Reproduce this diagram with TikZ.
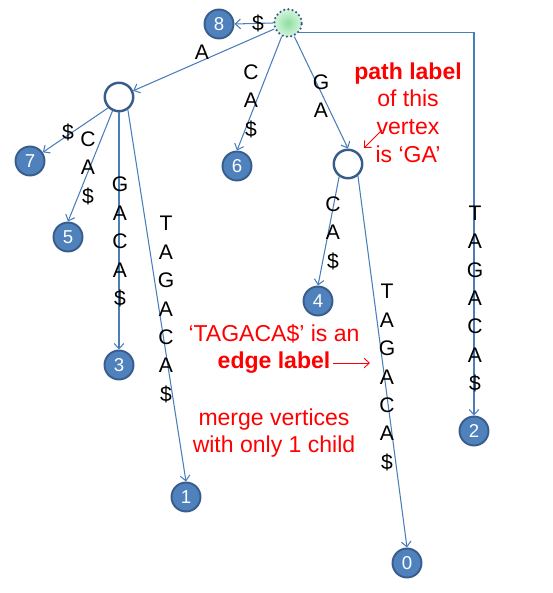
\documentclass[tikz,border=0pt]{standalone}
\usepackage{fontspec}
\setmainfont{Liberation Sans}
\usepackage{xcolor}
\usetikzlibrary{arrows.meta, positioning, calc}

\definecolor{leafblue}{RGB}{79,129,189}
\definecolor{rimblue}{RGB}{56,93,138}
\definecolor{edgeblue}{RGB}{74,126,187}
\definecolor{rootgreen}{RGB}{140,222,160}
\definecolor{rootpale}{RGB}{214,244,220}

\begin{document}
\begin{tikzpicture}[
    leafnode/.style={circle, fill=leafblue, draw=rimblue, line width=1.1pt, inner sep=0pt, minimum size=16.5pt, text=white, font=\fontsize{10.6}{12}\selectfont},
    branchnode/.style={circle, fill=white, draw=rimblue, line width=1.4pt, inner sep=0pt, minimum size=16.2pt},
    rootnode/.style={circle, inner color=rootgreen, outer color=rootpale, draw=rimblue, line width=1.4pt, dash pattern=on 0pt off 2.4pt, line cap=round, inner sep=0pt, minimum size=15.6pt},
    treearc/.style={->, >={Straight Barb[length=3pt, width=5.5pt]}, edgeblue, line width=0.6pt},
    pointer/.style={->, >={Straight Barb[length=3pt, width=5.5pt]}, red, line width=0.5pt},
    letters/.style={align=center, inner sep=0pt, font=\fontsize{12}{16.2}\selectfont},
    note/.style={align=center, inner sep=0pt, red, font=\fontsize{13.1}{15.7}\selectfont},
  ]
      \useasboundingbox (0, 0) rectangle (11.06, -11.86);

      % vertices
      \node[rootnode] (root) at (5.76, -0.46) {};
      \node[leafnode] (n8) at (4.38, -0.48) {8};
      \node[branchnode] (a) at (2.38, -1.94) {};
      \node[branchnode] (ga) at (6.96, -3.28) {};
      \node[leafnode] (n7) at (0.60, -3.22) {7};
      \node[leafnode] (n5) at (1.36, -4.74) {5};
      \node[leafnode] (n3) at (2.38, -7.30) {3};
      \node[leafnode] (n1) at (3.72, -9.94) {1};
      \node[leafnode] (n6) at (4.74, -3.32) {6};
      \node[leafnode] (n4) at (6.36, -6.02) {4};
      \node[leafnode] (n0) at (8.14, -11.26) {0};
      \node[leafnode] (n2) at (9.48, -8.62) {2};

      % edges
      \draw[treearc] (root.west) -- (n8.east);
      \draw[treearc] (root) -- (a);
      \draw[treearc] (root.-115) -- (n6.north);
      \draw[treearc] (root.-65) -- (ga.north);
      \draw[treearc] (root.-40) -| (n2.north);
      \draw[treearc] (a.-135) -- (n7);
      \draw[treearc] (a.-115) -- (n5.north);
      \draw[treearc] (a.south) -- (n3.north);
      \draw[treearc] (a.-55) -- (n1.north);
      \draw[treearc] (ga.-125) -- (n4.north);
      \draw[treearc] (ga.-50) -- (n0.north);

      % edge labels
      \node[letters] (l8) at (5.16, -0.46) {\$};
      \node[letters] (la) at (4.04, -1.04) {A};
      \node[letters] (l6) at (5.02, -2.02) {C\\A\\\$};
      \node[letters] (lga) at (6.42, -1.92) {G\\A};
      \node[letters] (l7) at (1.36, -2.64) {\$};
      \node[letters] (l5) at (1.76, -3.36) {C\\A\\\$};
      \node[letters] (l3) at (2.40, -4.84) {G\\A\\C\\A\\\$};
      \node[letters] (l1) at (3.32, -6.19) {T\\A\\G\\A\\C\\A\\\$};
      \node[letters] (l4) at (6.66, -4.66) {C\\A\\\$};
      \node[letters] (l0) at (7.74, -7.55) {T\\A\\G\\A\\C\\A\\\$};
      \node[letters] (l2) at (9.50, -5.98) {T\\A\\G\\A\\C\\A\\\$};

      % notes
      \node[note] (pathnote) at (8.16, -2.25) {\textbf{path label}\\of this\\vertex\\is ‘GA’};
      \coordinate (pathtail) at (7.64, -2.60);
      \draw[pointer, shorten >=4pt] (pathtail) -- (ga);

      \node[note] (edgenote) at (5.48, -6.98) {‘TAGACA\$’ is an\\\textbf{edge label}};
      \coordinate (edgetail) at (6.66, -7.26);
      \coordinate (edgetip) at (7.40, -7.26);
      \draw[pointer] (edgetail) -- (edgetip);

      \node[note] (mergenote) at (5.48, -8.66) {merge vertices\\with only 1 child};

\end{tikzpicture}
\end{document}
